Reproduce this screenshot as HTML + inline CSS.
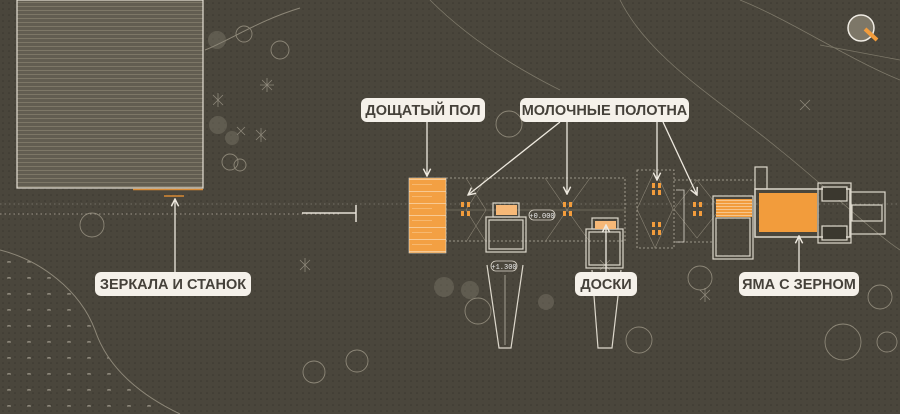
<!DOCTYPE html>
<html><head><meta charset="utf-8"><style>
html,body{margin:0;padding:0;background:#49453b;}
svg{display:block}
.lbl{font-family:"Liberation Sans","DejaVu Sans",sans-serif;font-weight:bold;font-size:14.5px;fill:#45413a}
</style></head><body>
<svg width="900" height="414" viewBox="0 0 900 414" xmlns="http://www.w3.org/2000/svg">
<defs>
<pattern id="dots" width="6" height="6" patternUnits="userSpaceOnUse"><circle cx="3" cy="3" r="0.8" fill="#3a372f"/></pattern>
<pattern id="stripes" width="4" height="4" patternUnits="userSpaceOnUse"><rect width="4" height="4" fill="#625d51"/><rect y="2" width="4" height="1" fill="#7d7767"/></pattern>
<pattern id="ostr" width="4" height="3" patternUnits="userSpaceOnUse"><rect width="4" height="3" fill="#f29c3c"/><rect y="2" width="4" height="1" fill="#f7c58b"/></pattern>
<pattern id="plank" width="37" height="12" patternUnits="userSpaceOnUse"><rect width="37" height="12" fill="#f3a043"/><rect y="11" width="37" height="1" fill="#f8c992"/><rect x="5" y="4" width="20" height="1" fill="#f7b86f"/></pattern>
<pattern id="marks" width="20" height="16" patternUnits="userSpaceOnUse"><path d="M7 6h4M9 5v1" stroke="#b8b2a2" stroke-width="1"/></pattern>
<marker id="ar" viewBox="0 0 10 10" refX="9" refY="5" markerWidth="7" markerHeight="7" orient="auto"><path d="M1 1L9 5L1 9" fill="none" stroke="#eee9df" stroke-width="1.6"/></marker>
</defs>
<rect width="900" height="414" fill="#4a463c"/>
<rect width="900" height="414" fill="url(#dots)"/>
<path d="M0 250 C40 260 80 290 95 330 C105 360 130 390 180 414 L0 414Z" fill="url(#marks)" opacity="0.8"/>
<path d="M0 250 C40 260 80 290 95 330 C105 360 130 390 180 414" fill="none" stroke="#8d8778" stroke-width="1"/>
<path d="M205 50 C230 40 260 20 300 8" fill="none" stroke="#8d8778" stroke-width="1"/>
<path d="M430 0 C470 40 520 70 560 90" fill="none" stroke="#7d7869" stroke-width="0.8"/>
<path d="M620 0 C650 60 720 100 780 150 C830 190 870 230 900 250" fill="none" stroke="#7d7869" stroke-width="0.8"/>
<path d="M740 0 C790 20 850 60 900 80" fill="none" stroke="#7d7869" stroke-width="0.8"/>
<path d="M820 45 L900 60" fill="none" stroke="#7d7869" stroke-width="0.8"/>
<g fill="none" stroke="#8d8778" stroke-width="0.9">
<circle cx="244" cy="34" r="8"/><circle cx="280" cy="50" r="9"/><circle cx="230" cy="162" r="8"/><circle cx="240" cy="165" r="6"/>
<circle cx="509" cy="124" r="13"/><circle cx="314" cy="372" r="11"/><circle cx="357" cy="361" r="11"/>
<circle cx="478" cy="311" r="13"/><circle cx="639" cy="340" r="13"/><circle cx="700" cy="278" r="12"/>
<circle cx="843" cy="342" r="18"/><circle cx="887" cy="342" r="10"/><circle cx="880" cy="297" r="12"/><circle cx="92" cy="225" r="12"/>
</g>
<g stroke="#a8a293" stroke-width="0.8" opacity="0.7">
<path d="M262 90l10 -10M262 80l10 10M267 78v14M260 85h14"/><path d="M256 140l10-10M256 130l10 10M261 128v14"/>
<path d="M213 105l10-10M213 95l10 10M218 93v14"/><path d="M237 135l8-8M237 127l8 8"/>
<path d="M300 270l10-10M300 260l10 10M305 258v14"/><path d="M600 270l10-10M600 260l10 10"/>
<path d="M700 300l10-10M700 290l10 10M705 288v14"/><path d="M800 110l10-10M800 100l10 10"/>
</g>
<g fill="#8a8576" opacity="0.35">
<circle cx="217" cy="40" r="9"/><circle cx="218" cy="125" r="9"/><circle cx="232" cy="138" r="7"/><circle cx="444" cy="287" r="10"/><circle cx="470" cy="290" r="9"/><circle cx="546" cy="302" r="8"/>
</g>
<rect x="17" y="0" width="186" height="188" fill="url(#stripes)" stroke="#e6e1d6" stroke-width="1.2"/>
<line x1="133" y1="189.5" x2="203" y2="189.5" stroke="#d88a35" stroke-width="1.5"/>
<line x1="164" y1="196" x2="184" y2="196" stroke="#d88a35" stroke-width="1.5"/>
<g stroke="#9d978a" stroke-width="1" stroke-dasharray="1.5 3">
<line x1="0" y1="204" x2="900" y2="204" opacity="0.5"/><line x1="0" y1="214" x2="340" y2="214"/>
</g>
<line x1="302" y1="213" x2="356" y2="213" stroke="#e6e1d6" stroke-width="1.5"/>
<line x1="356" y1="205" x2="356" y2="222" stroke="#e6e1d6" stroke-width="1.5"/>
<g fill="none" stroke="#b6b0a2" stroke-width="0.8" stroke-dasharray="2 2">
<rect x="446" y="178" width="179" height="63"/><rect x="637" y="170" width="37" height="78"/>
<line x1="674" y1="180" x2="755" y2="180"/><line x1="674" y1="242" x2="713" y2="242"/>
</g>
<g stroke="#8a8475" stroke-width="0.6" fill="none">
<path d="M446 210h180M466 178l20 32-20 32M486 178l-20 32 20 32M545 178l22 32-22 32M590 178l-23 32 23 32M637 209l18-39 18 39-18 39z M674 209l23-29 23 29-23 29z"/>
</g>
<g fill="#f29c3c">
<rect x="461" y="202" width="3" height="5"/><rect x="467" y="202" width="3" height="5"/><rect x="461" y="211" width="3" height="5"/><rect x="467" y="211" width="3" height="5"/>
<rect x="563" y="202" width="3" height="5"/><rect x="569" y="202" width="3" height="5"/><rect x="563" y="211" width="3" height="5"/><rect x="569" y="211" width="3" height="5"/>
<rect x="652" y="183" width="3" height="5"/><rect x="658" y="183" width="3" height="5"/><rect x="652" y="190" width="3" height="5"/><rect x="658" y="190" width="3" height="5"/>
<rect x="652" y="222" width="3" height="5"/><rect x="658" y="222" width="3" height="5"/><rect x="652" y="230" width="3" height="5"/><rect x="658" y="230" width="3" height="5"/>
<rect x="693" y="202" width="3" height="5"/><rect x="699" y="202" width="3" height="5"/><rect x="693" y="211" width="3" height="5"/><rect x="699" y="211" width="3" height="5"/>
</g>
<rect x="409" y="178" width="37" height="75" fill="url(#plank)" stroke="#e6e1d6" stroke-width="0.6"/>
<g fill="none" stroke="#ddd8cc" stroke-width="1.2">
<rect x="486" y="217" width="40" height="35"/><rect x="489" y="220" width="34" height="29"/>
<rect x="493" y="203" width="26" height="14"/>
<rect x="586" y="229" width="37" height="39"/><rect x="589" y="232" width="31" height="33"/>
<rect x="592" y="218" width="26" height="11"/>
<path d="M487 265 L499 348 L511 348 L523 265"/><path d="M505 275 V345" stroke-width="0.6"/>
<path d="M592 270 L598 348 L612 348 L621 270"/>
<rect x="713" y="196" width="40" height="63"/><rect x="716" y="218" width="34" height="38"/>
<rect x="755" y="167" width="12" height="22"/>
<rect x="755" y="189" width="95" height="48" stroke-width="1.5"/>
<rect x="818" y="183" width="33" height="60"/><rect x="822" y="187" width="25" height="14"/><rect x="822" y="226" width="25" height="14"/>
<rect x="850" y="192" width="35" height="42"/><rect x="852" y="205" width="30" height="16"/>
<path d="M676 190 h8 v52 h-8" stroke-width="0.8"/>
</g>
<rect x="496" y="205" width="21" height="10" fill="#f6b877"/>
<rect x="595" y="221" width="21" height="8" fill="#f6b877"/>
<rect x="716" y="199" width="36" height="18" fill="url(#ostr)"/>
<rect x="759" y="193" width="58" height="39" fill="#f29c3c"/>
<rect x="823" y="188" width="23" height="12" fill="#3b382f"/><rect x="823" y="227" width="23" height="12" fill="#3b382f"/>
<rect x="529" y="210" width="26" height="10" rx="5" fill="#4a463c" stroke="#ddd8cc" stroke-width="0.8"/>
<text x="542" y="218" font-family="Liberation Mono,monospace" font-size="7" fill="#eee" text-anchor="middle">+0.000</text>
<rect x="491" y="261" width="26" height="10" rx="5" fill="#4a463c" stroke="#ddd8cc" stroke-width="0.8"/>
<text x="504" y="269" font-family="Liberation Mono,monospace" font-size="7" fill="#eee" text-anchor="middle">+1.300</text>
<g stroke="#eee9df" stroke-width="1.3" fill="none" marker-end="url(#ar)">
<line x1="427" y1="122" x2="427" y2="176"/>
<line x1="560" y1="122" x2="468" y2="195"/>
<line x1="567" y1="122" x2="567" y2="194"/>
<line x1="657" y1="122" x2="657" y2="180"/>
<line x1="663" y1="122" x2="697" y2="195"/>
<line x1="175" y1="272" x2="175" y2="199"/>
<line x1="606" y1="272" x2="606" y2="225"/>
<line x1="799" y1="272" x2="799" y2="236"/>
</g>
<g fill="#f5f1ea">
<rect x="361" y="98" width="124" height="24" rx="6"/>
<rect x="520" y="98" width="169" height="24" rx="6"/>
<rect x="95" y="272" width="156" height="24" rx="6"/>
<rect x="575" y="272" width="62" height="24" rx="6"/>
<rect x="739" y="272" width="120" height="24" rx="6"/>
</g>
<text class="lbl" x="423" y="115" text-anchor="middle">ДОЩАТЫЙ ПОЛ</text>
<text class="lbl" x="604.5" y="115" text-anchor="middle">МОЛОЧНЫЕ ПОЛОТНА</text>
<text class="lbl" x="173" y="289" text-anchor="middle">ЗЕРКАЛА И СТАНОК</text>
<text class="lbl" x="606" y="289" text-anchor="middle">ДОСКИ</text>
<text class="lbl" x="799" y="289" text-anchor="middle">ЯМА С ЗЕРНОМ</text>
<circle cx="861" cy="28" r="13" fill="#7d7768" stroke="#f0ece4" stroke-width="1.5"/>
<line x1="865" y1="29" x2="877" y2="40" stroke="#f29c3c" stroke-width="4"/>
</svg>
</body></html>
